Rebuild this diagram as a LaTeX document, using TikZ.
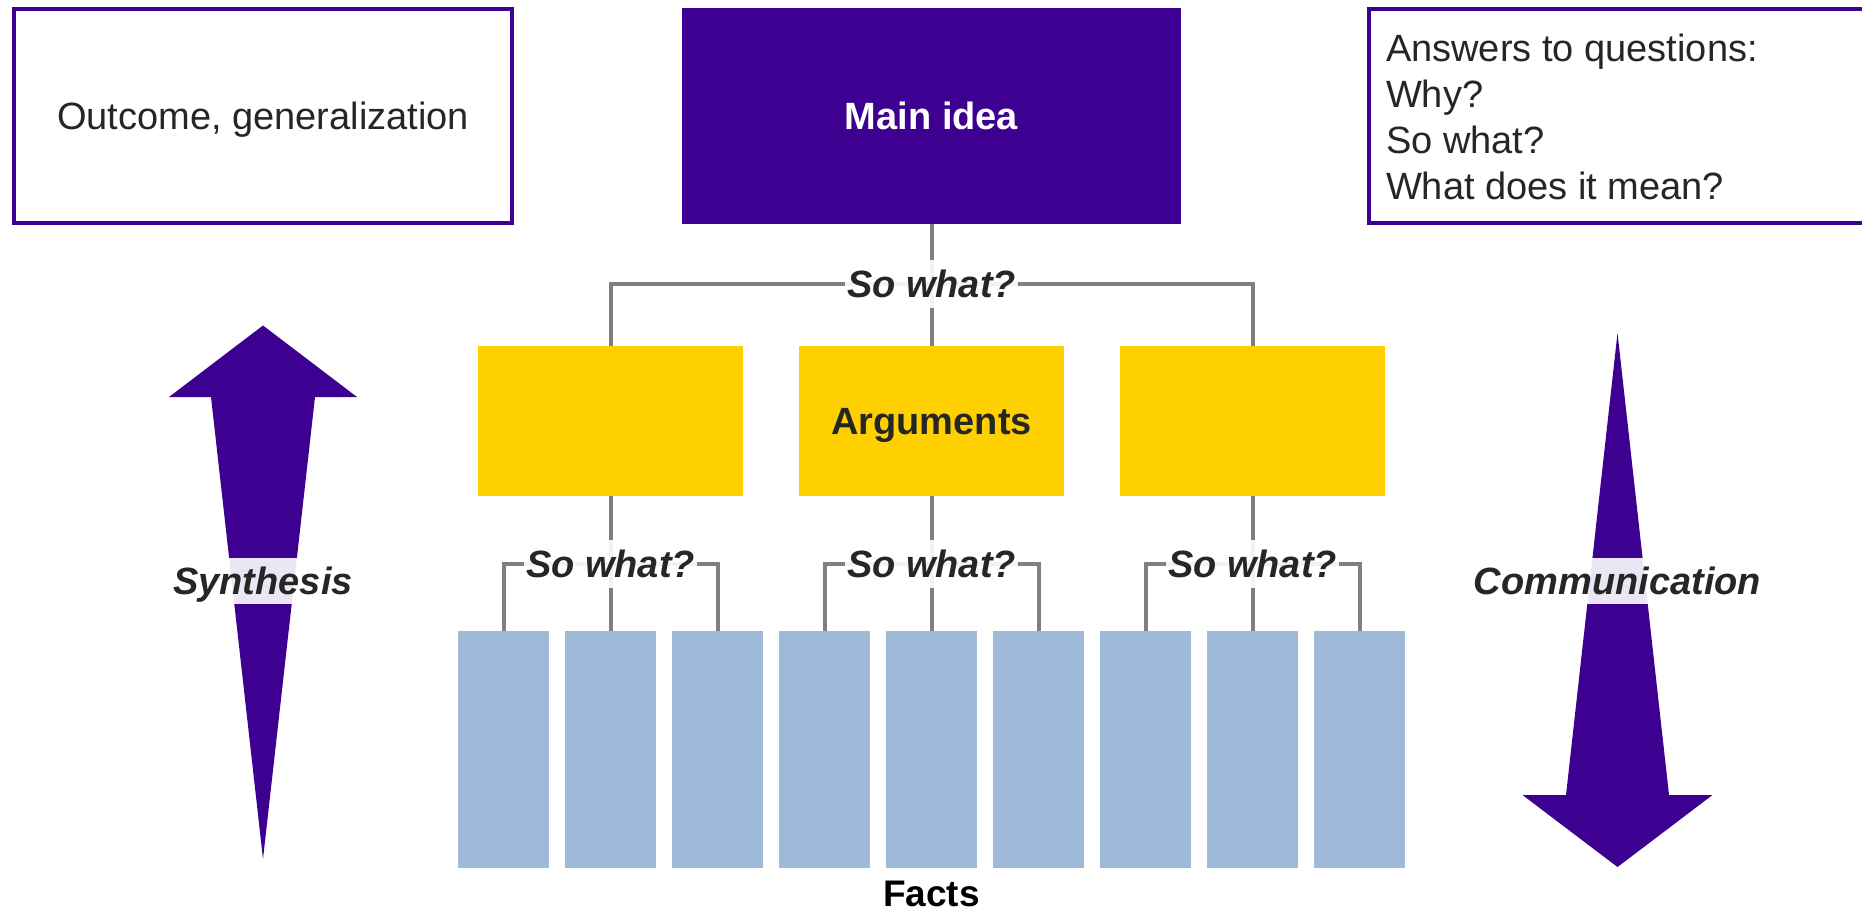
\documentclass[tikz,border=0pt]{standalone}
\usepackage{fontspec}
\setmainfont{Liberation Sans}
\definecolor{deeppurple}{RGB}{61,0,144}
\definecolor{gold}{RGB}{255,208,0}
\definecolor{factblue}{RGB}{158,186,216}
\definecolor{ink}{RGB}{38,38,38}
\definecolor{linkgray}{RGB}{128,128,128}
\begin{document}
\begin{tikzpicture}[x=1pt,y=-1pt,
  every node/.style={inner sep=0pt, outer sep=0pt},
  regfont/.style={font=\fontsize{38}{46}\selectfont},
  boldfont/.style={font=\fontsize{38}{46}\selectfont\bfseries},
  itfont/.style={font=\fontsize{38}{46}\selectfont\bfseries\itshape},
  capcenter/.style={text height=27.2pt, text depth=0pt},
  framebox/.style={draw=deeppurple, line width=4pt, fill=white,
    minimum width=498pt, minimum height=214pt},
  mainbox/.style={fill=deeppurple, minimum width=499pt, minimum height=216pt,
    text=white, boldfont, capcenter},
  argbox/.style={fill=gold, minimum width=265pt, minimum height=150pt,
    text=ink, boldfont, capcenter},
  factbox/.style={fill=factblue, minimum width=91pt, minimum height=237pt},
  link/.style={draw=linkgray, line width=4pt},
  sowhat/.style={fill=white, fill opacity=0.9, text opacity=1, text=ink,
    itfont, capcenter, inner xsep=2.5pt, inner ysep=10pt},
  flowlabel/.style={fill=white, fill opacity=0.9, text opacity=1, text=ink,
    itfont, capcenter, inner xsep=3pt, inner ysep=9.6pt},
  flowarrow/.style={fill=deeppurple}
]
\useasboundingbox (0,0) rectangle (1862,914);
\clip (0,0) rectangle (1862,914);

% top row
\node[framebox, regfont, text=ink, capcenter] (outcome) at (263,116) {Outcome, generalization};
\node[mainbox] (main) at (931.5,116) {Main idea};
\node[framebox] (qbox) at (1617.5,116) {};
\node[regfont, text=ink, anchor=base west] (qtext) at (1386,61)
  {\vtop{\hbox{Answers to questions:}\hbox{Why?}\hbox{So what?}\hbox{What does it mean?}}};

% arguments
\node[argbox] (arg1) at (610.5,421) {};
\node[argbox] (arg2) at (931.5,421) {Arguments};
\node[argbox] (arg3) at (1252.5,421) {};

% facts
\foreach \i in {1,...,9}
  \node[factbox] (f\i) at ({503.5+107*(\i-1)},749.5) {};
\node[boldfont, font=\fontsize{37}{44}\selectfont\bfseries, text=black, anchor=base] (facts) at (931.5,906) {Facts};

% connectors
\coordinate (j0) at (931.5,284);
\coordinate (j1) at (610.5,564);
\coordinate (j2) at (931.5,564);
\coordinate (j3) at (1252.5,564);
\draw[link] (main.south) -- (arg2.north);
\draw[link] (arg1.north) |- (j0) -| (arg3.north);
\draw[link] (arg1.south) -- (f2.north);
\draw[link] (f1.north) |- (j1) -| (f3.north);
\draw[link] (arg2.south) -- (f5.north);
\draw[link] (f4.north) |- (j2) -| (f6.north);
\draw[link] (arg3.south) -- (f8.north);
\draw[link] (f7.north) |- (j3) -| (f9.north);
\node[sowhat] (sw0) at (j0) {So what?};
\node[sowhat] (sw1) at (j1) {So what?};
\node[sowhat] (sw2) at (j2) {So what?};
\node[sowhat] (sw3) at (j3) {So what?};

% side arrows
\fill[flowarrow] (263,325.5) -- (357,397) -- (315,397) -- (263,859)
  -- (211,397) -- (169,397) -- cycle;
\fill[flowarrow] (1617.5,333) -- (1669,795) -- (1712.5,795) -- (1617.5,867)
  -- (1522.5,795) -- (1566,795) -- cycle;
\node[flowlabel] (syn) at (263,581) {Synthesis};
\node[flowlabel] (com) at (1617.5,581) {Communication};
\end{tikzpicture}
\end{document}
